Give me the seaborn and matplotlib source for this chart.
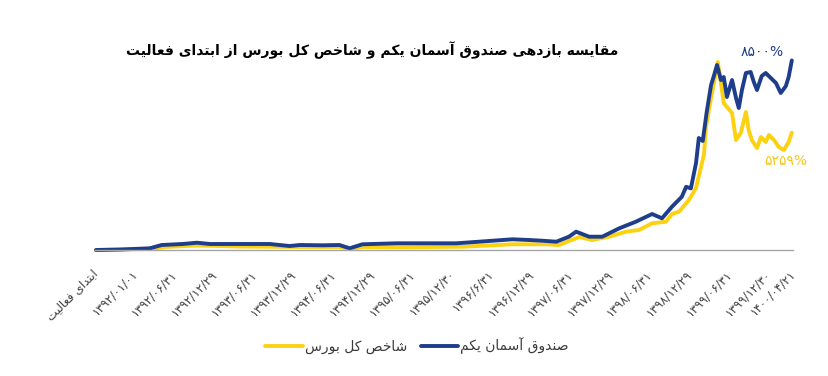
import matplotlib
matplotlib.use("Agg")
import matplotlib.pyplot as plt
import seaborn as sns
import pandas as pd
from matplotlib.lines import Line2D

# ---------------- data ----------------
# time in half-year steps from the start of activity (tick i = i-th date label)
blue_t = [0, 0.61, 1.36, 1.66, 2.19, 2.55, 2.88, 3.63, 4.39, 4.89, 5.15, 5.73, 6.15,
          6.41, 6.73, 7.59, 8.42, 9.10, 9.68, 10.52, 10.95, 11.27, 11.63, 11.95, 12.13,
          12.46, 12.79, 13.22, 13.64, 14.05, 14.30, 14.55, 14.80, 14.91, 15.03, 15.16,
          15.23, 15.33, 15.43, 15.54, 15.61, 15.69, 15.79, 15.86, 15.94, 16.07, 16.17,
          16.24, 16.32, 16.42, 16.54, 16.62, 16.70, 16.82, 16.92, 17.05, 17.18, 17.30,
          17.43, 17.50, 17.58]
blue_v = [0, 22, 76, 224, 269, 327, 269, 269, 269, 179, 224, 211, 224,
          76, 256, 300, 300, 300, 372, 480, 448, 417, 372, 596, 821,
          596, 596, 973, 1269, 1614, 1421, 1937, 2385, 2834, 2763, 3901,
          5022, 4888, 6188, 7399, 7802, 8295, 7623, 7757, 6861, 7623, 6816,
          6367, 7174, 7937, 7982, 7533, 7174, 7802, 7937, 7712, 7488, 7040,
          7354, 7757, 8500]

yellow_t = [0, 1.36, 1.74, 2.55, 3.63, 5.15, 6.15, 6.41, 6.73, 7.74, 9.26, 10.52,
            11.37, 11.70, 11.95, 12.21, 12.53, 12.96, 13.39, 13.72, 14.05, 14.40,
            14.55, 14.73, 14.91, 14.98, 15.16, 15.31, 15.36, 15.41, 15.54, 15.64,
            15.71, 15.79, 15.86, 15.94, 16.07, 16.17, 16.29, 16.42, 16.49, 16.57,
            16.70, 16.80, 16.92, 17.00, 17.13, 17.25, 17.38, 17.50, 17.58]
yellow_v = [0, 45, 135, 202, 157, 135, 135, 45, 135, 121, 148, 256,
            256, 224, 404, 583, 448, 596, 821, 897, 1197, 1269,
            1614, 1717, 2094, 2242, 2780, 3901, 4260, 5515, 6816, 7757,
            8430, 7488, 6591, 6412, 6143, 4932, 5246, 6188, 5381, 4932,
            4574, 5067, 4843, 5157, 4932, 4619, 4484, 4843, 5259]

tick_pos = [0, 1, 2, 3, 4, 5, 6, 7, 8, 9, 10, 11, 12, 13, 14, 15, 16, 17, 17.61]
tick_labels = ["ابتدای فعالیت", "۱۳۹۲/۰۱/۰۱", "۱۳۹۲/۰۶/۳۱", "۱۳۹۲/۱۲/۲۹", "۱۳۹۳/۰۶/۳۱",
               "۱۳۹۳/۱۲/۲۹", "۱۳۹۴/۰۶/۳۱", "۱۳۹۴/۱۲/۲۹", "۱۳۹۵/۰۶/۳۱", "۱۳۹۵/۱۲/۳۰",
               "۱۳۹۶/۶/۳۱", "۱۳۹۶/۱۲/۲۹", "۱۳۹۷/۰۶/۳۱", "۱۳۹۷/۱۲/۲۹", "۱۳۹۸/۰۶/۳۱",
               "۱۳۹۸/۱۲/۲۹", "۱۳۹۹/۰۶/۳۱", "۱۳۹۹/۱۲/۳۰", "۱۴۰۰/۰۴/۲۱"]

name_blue = "صندوق آسمان یکم"
name_yellow = "شاخص کل بورس"
title = "مقایسه بازدهی صندوق آسمان یکم و شاخص کل بورس از ابتدای فعالیت"
end_blue_label = "۸۵۰۰%"
end_yellow_label = "۵۲۵۹%"

# ---------------- Persian shaping helper ----------------
FORMS = {
    '\u0622': ('\uFE81', '\uFE82', None, None),
    '\u0627': ('\uFE8D', '\uFE8E', None, None),
    '\u0628': ('\uFE8F', '\uFE90', '\uFE91', '\uFE92'),
    '\u062A': ('\uFE95', '\uFE96', '\uFE97', '\uFE98'),
    '\u062E': ('\uFEA5', '\uFEA6', '\uFEA7', '\uFEA8'),
    '\u062F': ('\uFEA9', '\uFEAA', None, None),
    '\u0631': ('\uFEAD', '\uFEAE', None, None),
    '\u0632': ('\uFEAF', '\uFEB0', None, None),
    '\u0633': ('\uFEB1', '\uFEB2', '\uFEB3', '\uFEB4'),
    '\u0634': ('\uFEB5', '\uFEB6', '\uFEB7', '\uFEB8'),
    '\u0635': ('\uFEB9', '\uFEBA', '\uFEBB', '\uFEBC'),
    '\u0639': ('\uFEC9', '\uFECA', '\uFECB', '\uFECC'),
    '\u0641': ('\uFED1', '\uFED2', '\uFED3', '\uFED4'),
    '\u0642': ('\uFED5', '\uFED6', '\uFED7', '\uFED8'),
    '\u0644': ('\uFEDD', '\uFEDE', '\uFEDF', '\uFEE0'),
    '\u0645': ('\uFEE1', '\uFEE2', '\uFEE3', '\uFEE4'),
    '\u0646': ('\uFEE5', '\uFEE6', '\uFEE7', '\uFEE8'),
    '\u0647': ('\uFEE9', '\uFEEA', '\uFEEB', '\uFEEC'),
    '\u0648': ('\uFEED', '\uFEEE', None, None),
    '\u06A9': ('\uFB8E', '\uFB8F', '\uFB90', '\uFB91'),
    '\u06CC': ('\uFBFC', '\uFBFD', '\uFBFE', '\uFBFF'),
}


def fa(text):
    text = text.replace('\u064A', '\u06CC').replace('\u0643', '\u06A9')
    out = []
    n = len(text)
    for i, c in enumerate(text):
        if c not in FORMS:
            out.append(c)
            continue
        f = FORMS[c]
        prev = text[i - 1] if i > 0 else ''
        nxt = text[i + 1] if i + 1 < n else ''
        join_prev = prev in FORMS and FORMS[prev][2] is not None
        join_next = f[2] is not None and nxt in FORMS
        if join_prev and join_next:
            out.append(f[3])
        elif join_prev:
            out.append(f[1])
        elif join_next:
            out.append(f[2])
        else:
            out.append(f[0])
    return ''.join(out)[::-1]


def label(s):
    return fa(s) if any(ch in FORMS or ch in '\u064A\u0643' for ch in s) else s


# ---------------- plot ----------------
sns.set_style("white")
plt.rcParams['font.family'] = ['DejaVu Sans']

BLUE = "#1e3d8a"
YELLOW = "#fcd112"

fig = plt.figure(figsize=(8.29, 3.76), dpi=100)
ax = fig.add_axes([95 / 829, 126 / 376, 698 / 829, 200.7 / 376])

df_y = pd.DataFrame({"t": yellow_t, "v": yellow_v})
df_b = pd.DataFrame({"t": blue_t, "v": blue_v})
sns.lineplot(data=df_y, x="t", y="v", ax=ax, color=YELLOW, lw=2.8, estimator=None)
sns.lineplot(data=df_b, x="t", y="v", ax=ax, color=BLUE, lw=2.8, estimator=None)
for ln in ax.lines:
    ln.set_clip_on(False)
    ln.set_solid_joinstyle('round')

ax.set_xlim(-0.025, 17.58)
ax.set_ylim(0, 9000)
ax.set_xlabel("")
ax.set_ylabel("")
ax.set_yticks([])
ax.set_xticks(tick_pos)
ax.set_xticklabels([label(s) for s in tick_labels], rotation=45, ha='right',
                   va='center', rotation_mode='anchor', fontsize=8.6, color="#404040")
ax.tick_params(axis='x', length=0, pad=16)
for s in ['top', 'right', 'left']:
    ax.spines[s].set_visible(False)
ax.spines['bottom'].set_color("#a6a6a6")
ax.spines['bottom'].set_linewidth(1.0)
ax.set_facecolor('none')

ax.annotate(end_blue_label, xy=(blue_t[-1], blue_v[-1]), xytext=(-21, 6.0),
            textcoords='offset points', ha='center', va='center',
            fontsize=10, color=BLUE)
ax.annotate(end_yellow_label, xy=(yellow_t[-1], yellow_v[-1]), xytext=(-4.5, -20.5),
            textcoords='offset points', ha='center', va='center',
            fontsize=10, color="#f5c71a")

fig.text(372 / 829, 1 - 50 / 376, fa(title), ha='center', va='center',
         fontsize=10, fontweight='bold', color='black')

handles = [Line2D([], [], color=YELLOW, lw=2.8), Line2D([], [], color=BLUE, lw=2.8)]
fig.legend(handles, [fa(name_yellow), fa(name_blue)], ncol=2, loc='center',
           bbox_to_anchor=(417 / 829, 1 - 346 / 376), frameon=False, fontsize=10,
           handlelength=2.7, handletextpad=0.15, columnspacing=1.0,
           labelcolor="#3a3a3a")

fig.savefig("out.png", dpi=100)
